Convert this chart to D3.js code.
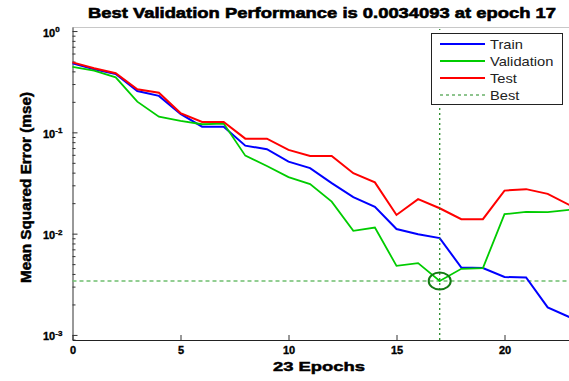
<!DOCTYPE html>
<html>
<head>
<meta charset="utf-8">
<script src="https://cdn.jsdelivr.net/npm/d3@7"></script>
<style>
body{margin:0;background:#fff;}
svg{display:block;font-family:"Liberation Sans",Arial,sans-serif;}
</style>
</head>
<body>
<svg id="chart" width="569" height="381"></svg>
<script>
const epochs = d3.range(0, 24);
const train = [0.480,0.419,0.377,0.256,0.229,0.152,0.1138,0.1138,0.0739,0.0681,0.0514,0.0443,0.0315,0.0229,0.0184,0.0111,0.00988,0.00903,0.00463,0.00457,0.00373,0.00369,0.00187,0.00150];
const validation = [0.444,0.406,0.349,0.201,0.1428,0.1296,0.1202,0.122,0.0589,0.0466,0.0361,0.0308,0.0207,0.01066,0.01149,0.00481,0.00512,0.0034093,0.00450,0.00457,0.01557,0.0164,0.0163,0.0172];
const test = [0.491,0.429,0.383,0.266,0.246,0.155,0.1266,0.1266,0.0867,0.0867,0.0671,0.0585,0.0585,0.0395,0.0321,0.0153,0.0219,0.0178,0.0139,0.0139,0.0266,0.0275,0.0247,0.0192];
const bestEpoch = 17;
const bestValue = 0.0034093;
const xTicks = [0, 5, 10, 15, 20];
const yMajor = [1, 0.1, 0.01, 0.001];
const yExp = ["0", "-1", "-2", "-3"];
const legendLabels = ["Train", "Validation", "Test", "Best"];
const titleText = "Best Validation Performance is 0.0034093 at epoch 17";
const xLabel = "23 Epochs";
const yLabel = "Mean Squared Error (mse)";

const svg = d3.select("#chart");
const L = 72.5, R = 569.3, T = 27, B = 340;
const x = d3.scaleLinear().domain([0, 23]).range([L, R]);
const y = d3.scaleLog().domain([Math.pow(10, -3.05), Math.pow(10, 0.04)]).range([B, T]);

// top border
svg.append("line").attr("x1", L).attr("x2", 569).attr("y1", T + 0.5).attr("y2", T + 0.5)
  .attr("stroke", "#c8c8c8").attr("stroke-width", 1);

// minor y ticks
const minor = [];
[-4, -3, -2, -1, 0].forEach(e => { for (let k = 2; k <= 9; k++) { const v = k * Math.pow(10, e); if (v > y.domain()[0] && v < y.domain()[1]) minor.push(v); } });
const gyMinor = svg.append("g").attr("transform", `translate(${L},0)`)
  .call(d3.axisLeft(y).tickValues(minor).tickSizeInner(-3).tickSizeOuter(0).tickFormat(""));
gyMinor.select(".domain").remove();
gyMinor.selectAll("line").attr("stroke", "#333");

// major y axis
const gy = svg.append("g").attr("transform", `translate(${L},0)`)
  .call(d3.axisLeft(y).tickValues(yMajor).tickSizeInner(-5).tickSizeOuter(0).tickFormat(""));
gy.select(".domain").attr("stroke", "#333");
gy.selectAll("line").attr("stroke", "#333");
gy.selectAll(".tick text").each(function (d, i) {
  const t = d3.select(this);
  t.attr("x", 43 - L).attr("dy", null).attr("y", 5).attr("text-anchor", "start")
    .attr("font-weight", "bold").attr("font-size", 11).attr("fill", "#000")
    .attr("stroke", "#000").attr("stroke-width", 0.35);
  t.append("tspan").text("10");
  t.append("tspan").attr("font-size", 8).attr("dy", -4.5).text(yExp[i]);
});

// x axis
const gx = svg.append("g").attr("transform", `translate(0,${B})`)
  .call(d3.axisBottom(x).tickValues(xTicks).tickSizeInner(-5).tickSizeOuter(0).tickPadding(6));
gx.select(".domain").attr("stroke", "#222");
gx.selectAll("line").attr("stroke", "#333");
gx.selectAll("text").attr("font-size", 11).attr("font-weight", "bold").attr("fill", "#000")
  .attr("stroke", "#000").attr("stroke-width", 0.35);

// best horizontal line
svg.append("line").attr("x1", x(0)).attr("x2", R).attr("y1", y(bestValue)).attr("y2", y(bestValue))
  .attr("stroke", "#6fbf6f").attr("stroke-width", 1.3).attr("stroke-dasharray", "4,3");

// data lines
const line = d3.line().x((d, i) => x(epochs[i])).y(d => y(d));
svg.append("path").datum(train).attr("d", line).attr("fill", "none").attr("stroke", "#0000ff").attr("stroke-width", 2);
svg.append("path").datum(validation).attr("d", line).attr("fill", "none").attr("stroke", "#00cc00").attr("stroke-width", 1.8);
svg.append("path").datum(test).attr("d", line).attr("fill", "none").attr("stroke", "#ff0000").attr("stroke-width", 2);

svg.append("line").attr("x1", x(bestEpoch)).attr("x2", x(bestEpoch)).attr("y1", B).attr("y2", T + 2)
  .attr("stroke", "#2a8a2a").attr("stroke-width", 1.3).attr("stroke-dasharray", "2,3");

svg.append("ellipse").attr("cx", x(bestEpoch)).attr("cy", y(bestValue)).attr("rx", 11).attr("ry", 8.5)
  .attr("fill", "none").attr("stroke", "#137a13").attr("stroke-width", 2);

// legend
const lg = svg.append("g");
lg.append("rect").attr("x", 431.5).attr("y", 33.5).attr("width", 131).attr("height", 71)
  .attr("fill", "#fff").attr("stroke", "#222").attr("stroke-width", 1);
const legColors = ["#0000ff", "#00cc00", "#ff0000", "#1f8a1f"];
legendLabels.forEach((lab, i) => {
  const yy = 44 + i * 17;
  lg.append("line").attr("x1", 440).attr("x2", 485).attr("y1", yy).attr("y2", yy)
    .attr("stroke", legColors[i]).attr("stroke-width", i === 3 ? 1.2 : 2)
    .attr("stroke-dasharray", i === 3 ? "3,3" : null);
  lg.append("text").attr("transform", `translate(490,${yy + 4.5}) scale(1.13,1)`)
    .attr("font-size", 13).attr("fill", "#222").text(lab);
});

// title and labels
svg.append("text").attr("x", 322).attr("y", 18).attr("text-anchor", "middle")
  .attr("font-size", 15).attr("font-weight", "bold").attr("textLength", 468).attr("lengthAdjust", "spacingAndGlyphs")
  .attr("stroke", "#000").attr("stroke-width", 0.6)
  .text(titleText);
svg.append("text").attr("x", 319).attr("y", 371).attr("text-anchor", "middle")
  .attr("font-size", 13.5).attr("font-weight", "bold").attr("textLength", 92).attr("lengthAdjust", "spacingAndGlyphs")
  .attr("stroke", "#000").attr("stroke-width", 0.5)
  .text(xLabel);
svg.append("text").attr("transform", "translate(31,187.5) rotate(-90)").attr("text-anchor", "middle")
  .attr("font-size", 14.5).attr("font-weight", "bold").attr("textLength", 191).attr("lengthAdjust", "spacingAndGlyphs")
  .attr("stroke", "#000").attr("stroke-width", 0.5)
  .text(yLabel);
</script>
</body>
</html>
